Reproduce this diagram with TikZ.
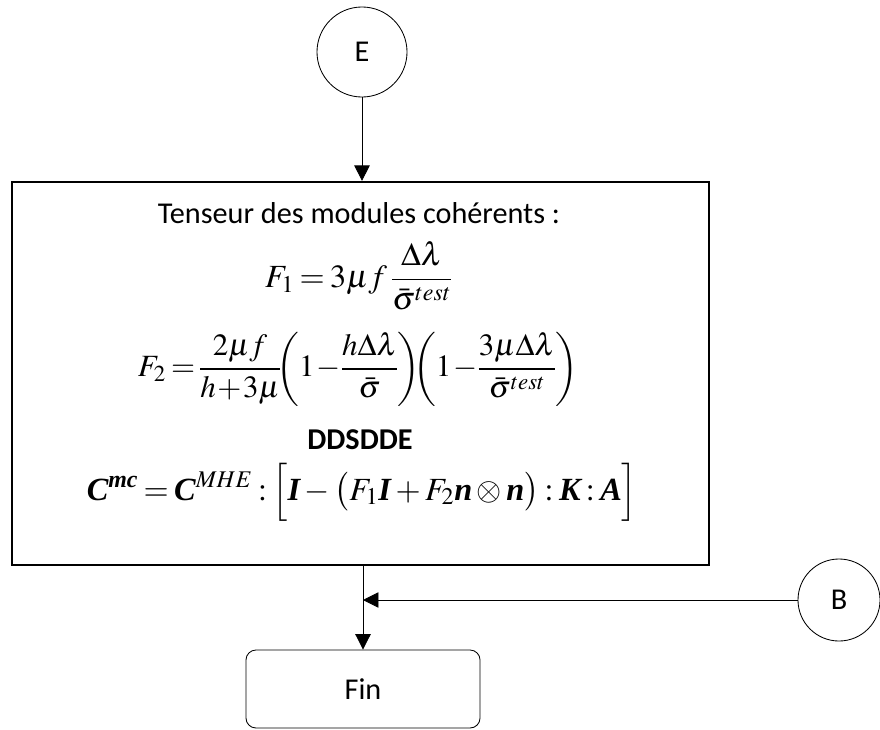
\documentclass[tikz,border=0pt]{standalone}
\usepackage{amsmath}
\usepackage{mathptmx}
\usepackage[no-math]{fontspec}
\setmainfont{Carlito}
\newfontfamily\tms{Liberation Serif}
\usetikzlibrary{arrows.meta,positioning}
\newcommand{\bv}[1]{\text{\tms\bfseries\itshape #1}}
\newcommand{\tightmath}{\thinmuskip=2mu\medmuskip=2.5mu\thickmuskip=3mu}
\newcommand{\tightermath}{\thinmuskip=2mu\medmuskip=1mu\thickmuskip=3mu\nulldelimiterspace=0pt}
\tikzset{
  connector/.style={draw,circle,semithick,inner sep=0pt,
    font=\fontsize{21.5}{25}\selectfont},
  bigbox/.style={draw,line width=1.5pt,minimum width=17.425cm,
    minimum height=9.575cm},
  endbox/.style={draw,semithick,rounded corners=0.25cm,minimum width=5.85cm,
    minimum height=1.95cm,font=\fontsize{21.5}{25}\selectfont},
  label/.style={font=\fontsize{21.5}{25}\selectfont},
  formula/.style={font=\fontsize{23}{27}\selectfont\tightmath,inner sep=0pt},
  flow/.style={-{Triangle[length=11pt,width=11pt]},semithick}
}

\begin{document}
\begin{tikzpicture}[x=0.025cm,y=-0.025cm]
  \useasboundingbox (0,0) rectangle (880,729);
  \node[connector,minimum size=2.25cm] (E) at (362,52) {E};
  \node[bigbox] (box) at (360.5,373.5) {};
  \node[label] (title) at (359,213) {Tenseur des modules cohérents :};
  \node[formula] (f1) at (359,276) {$F_1 = 3\mu f\,\dfrac{\Delta\lambda}{\bar{\sigma}^{test}}$};
  \node[formula,font=\fontsize{22}{26}\selectfont\tightermath] (f2) at (358,369) {$F_2 = \dfrac{2\mu f}{h+3\mu}\!\biggl(1-\dfrac{h\Delta\lambda}{\bar{\sigma}}\biggr)\!\!\biggl(1-\dfrac{3\mu\Delta\lambda}{\bar{\sigma}^{test}}\biggr)$};
  \node[label,font=\fontsize{21.5}{25}\selectfont\bfseries] (dd) at (360,440) {DDSDDE};
  \node[formula] (cmc) at (362,492) {$\bv{C}^{\bv{mc}} = \bv{C}^{MHE} : \Bigl[\bv{I} - \bigl(F_1\bv{I} + F_2\bv{n}\otimes\bv{n}\bigr) : \bv{K} : \bv{A}\Bigr]$};
  \node[connector,minimum size=2.05cm] (B) at (839,600) {B};
  \node[endbox] (fin) at (363,689) {Fin};

  \draw[flow] (E.south) -- (E.south |- box.north);
  \draw[semithick] (fin.north |- box.south) -- (fin.north |- B.west);
  \draw[flow] (fin.north |- B.west) -- (fin.north);
  \draw[flow] (B.west) -- (B.west -| fin.north);
\end{tikzpicture}
\end{document}
